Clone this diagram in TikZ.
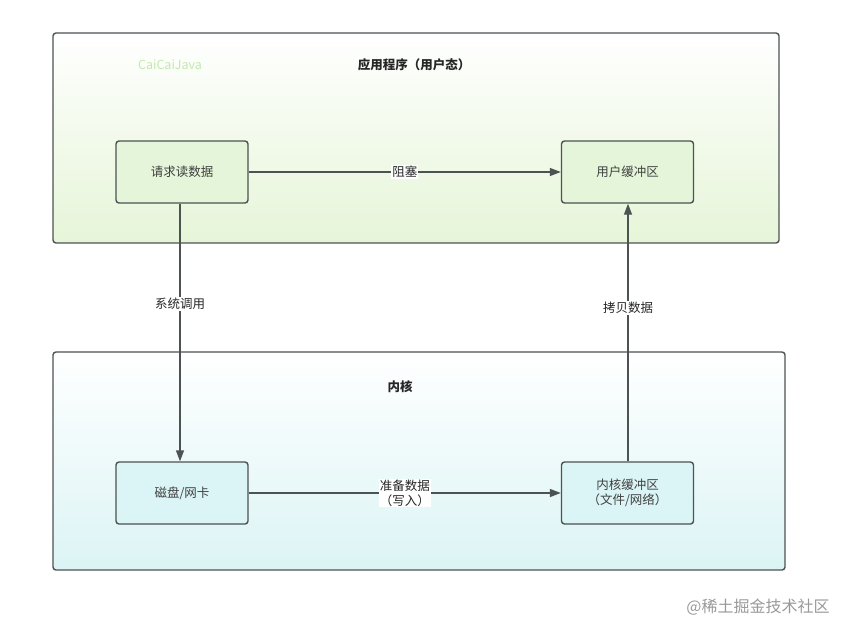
\documentclass[tikz,border=0pt]{standalone}
\usepackage{fontspec}
\setmainfont{Noto Sans CJK SC}
\usepackage{tikz}
\usetikzlibrary{positioning, arrows.meta}
\usepackage{xcolor}
\definecolor{userFill}{RGB}{228, 245, 217}
\definecolor{userBot}{RGB}{230, 245, 216}
\definecolor{kernFill}{RGB}{219, 244, 245}
\definecolor{kernBot}{RGB}{220, 244, 245}
\definecolor{lineGray}{RGB}{77, 82, 82}
\definecolor{markGreen}{RGB}{196, 232, 176}

\tikzset{
  layer/.style={draw=lineGray, line width=1.4pt, rounded corners=3pt},
  stage/.style={draw=lineGray, line width=1.4pt, rounded corners=3pt,
    minimum width=132pt, minimum height=62pt, align=center,
    font=\fontsize{12.5}{15}\selectfont, text=black!75},
  flow/.style={-{Triangle[length=11pt, width=8pt]}, draw=lineGray, line width=1.4pt},
  tag/.style={fill=white, inner sep=1pt, align=center,
    font=\fontsize{12.5}{15}\selectfont, text=black!85}
}

\begin{document}
\begin{tikzpicture}[x=1pt, y=-1pt]
  \useasboundingbox (0,0) rectangle (842,624);
  % User-space layer
  \shade[top color=white, bottom color=userBot, rounded corners=3pt] (53,33) rectangle (779,243);
  \draw[layer] (53,33) rectangle (779,243);
  \node[text=markGreen, font=\fontsize{12.5}{15}\selectfont] (mark) at (170,65) {CaiCaiJava};
  \node[font=\fontsize{12.5}{15}\selectfont\bfseries, text=black!85] (userTitle) at (414,65) {应用程序（用户态）};
  % Kernel layer
  \shade[top color=white, bottom color=kernBot, rounded corners=3pt] (53,352) rectangle (785,570);
  \draw[layer] (53,352) rectangle (785,570);
  \node[font=\fontsize{12.5}{15}\selectfont\bfseries, text=black!85] (kernTitle) at (400,387) {内核};
  % Stages
  \node[stage, fill=userFill] (request) at (182,172) {请求读数据};
  \node[stage, fill=userFill] (userBuf) at (627.5,172) {用户缓冲区};
  \node[stage, fill=kernFill] (device) at (182,493) {磁盘/网卡};
  \node[stage, fill=kernFill] (kernBuf) at (627.5,493) {内核缓冲区\\（文件/网络）};
  % Flows
  \draw[flow] (request) -- node[tag] {阻塞} (userBuf);
  \draw[flow] (request.south -| 180,0) -- node[tag, pos=0.39] {系统调用} (device.north -| 180,0);
  \draw[flow] (device) -- node[tag] {准备数据\\（写入）} (kernBuf);
  \draw[flow] (kernBuf.north -| 628,0) -- node[tag, pos=0.595] {拷贝数据} (userBuf.south -| 628,0);
  % Watermark
  \node[text=black!40, font=\fontsize{16}{18}\selectfont] (wm) at (758,607) {@稀土掘金技术社区};
\end{tikzpicture}
\end{document}
